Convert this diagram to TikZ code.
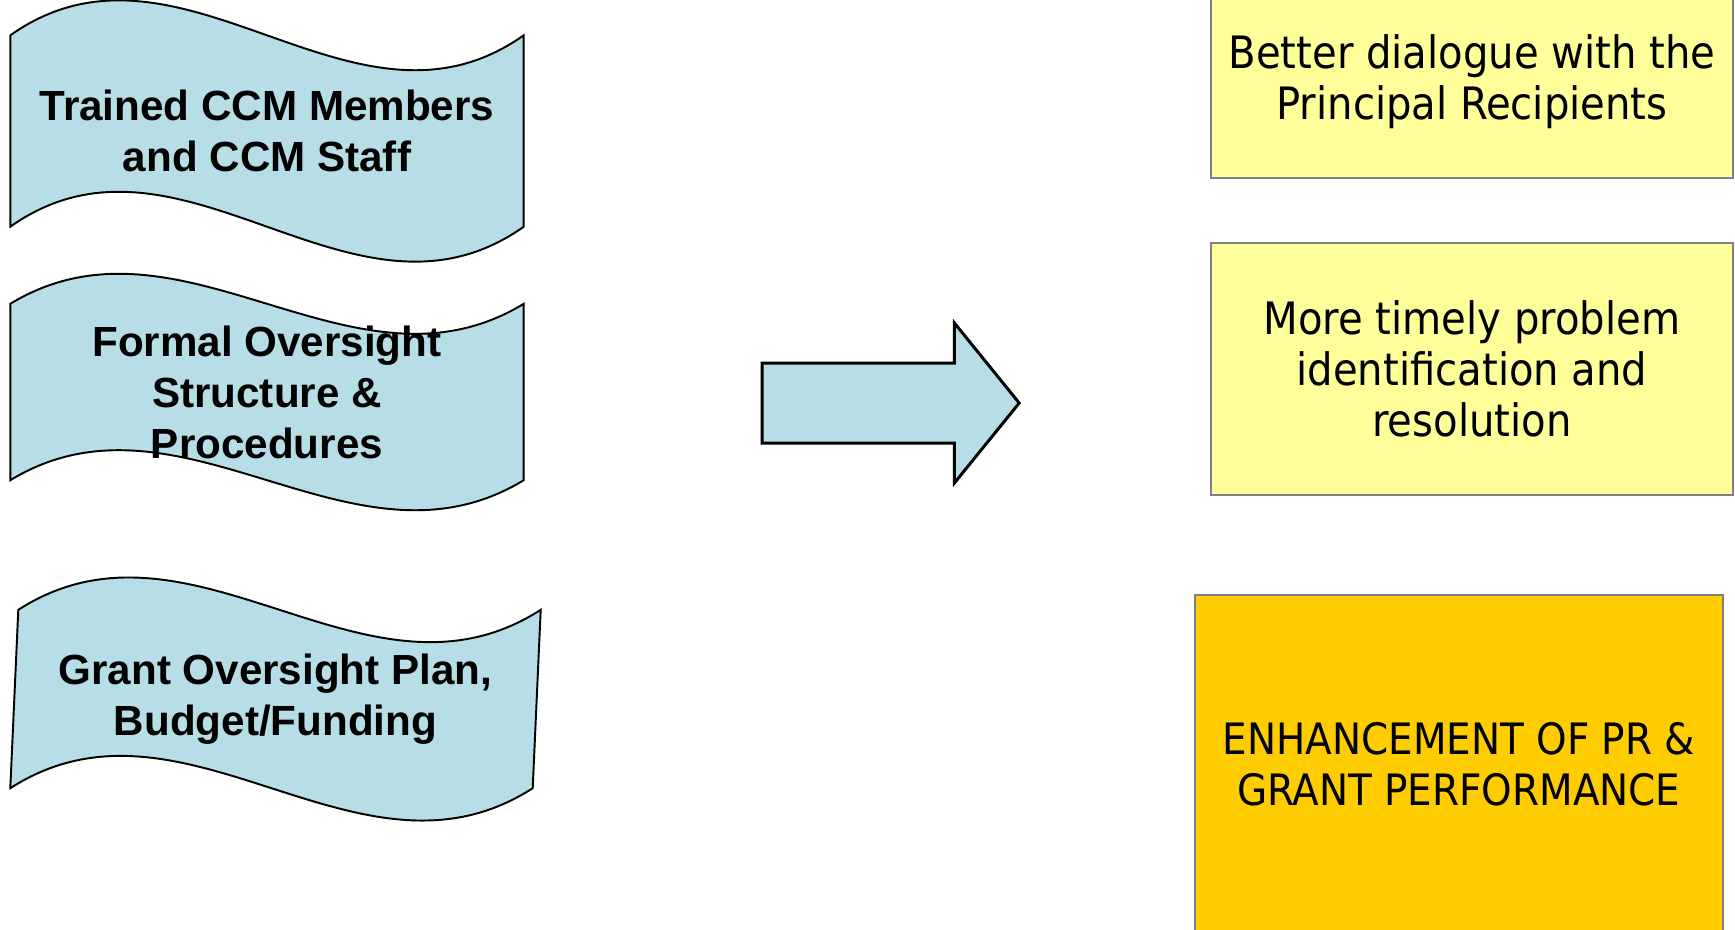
\documentclass[tikz,border=0pt]{standalone}
\usepackage{fontspec}
\setmainfont{Liberation Sans}
\newfontfamily\tahomafont{DejaVu Sans Condensed}
\usetikzlibrary{shapes.arrows,calc,backgrounds}
\definecolor{waveblue}{RGB}{183,222,230}
\definecolor{paleyellow}{RGB}{255,255,153}
\definecolor{goldbox}{RGB}{255,204,0}
\definecolor{boxline}{RGB}{128,128,128}

\begin{document}
\begin{tikzpicture}[every node/.style={align=center}, wave/.style={minimum width=5.12cm,inner sep=0pt,font=\fontsize{12}{14.5}\selectfont\bfseries}, waveline/.style={draw=black,line width=0.55pt,fill=waveblue}, box/.style={draw=boxline,line width=0.4pt,fill=paleyellow,minimum width=5.22cm,inner sep=0pt,font=\tahomafont\fontsize{12.7}{14.5}\selectfont}, arr/.style={single arrow,draw=black,line width=0.85pt,fill=waveblue,inner xsep=0pt,inner ysep=0.385cm,minimum height=2.57cm,minimum width=1.57cm,single arrow head extend=0.4cm,single arrow tip angle=102}]
\useasboundingbox (0,0) rectangle (17.35,-9.29);
\node[wave,minimum height=1.9cm] (a) at (2.67,-1.31) {Trained CCM Members\\and CCM Staff};
\node[wave,minimum height=1.75cm] (b) at (2.67,-3.92) {Formal Oversight\\Structure \&\\Procedures};
\node[wave,minimum width=5.21cm,minimum height=1.77cm] (c) at (2.755,-6.99) {Grant Oversight Plan,\\Budget/Funding};
\node[arr] (d) at (8.745,-4.03) {};
\node[box,minimum height=1.92cm] (e) at (14.72,-0.82) {Better dialogue with the\\Principal Recipients};
\node[box,minimum height=2.52cm] (f) at (14.72,-3.69) {More timely problem\\identification and\\resolution};
\node[box,fill=goldbox,minimum width=5.28cm,minimum height=3.38cm,font=\tahomafont\fontsize{12.3}{14.5}\selectfont] (g) at (14.59,-7.64) {ENHANCEMENT OF PR \&\\GRANT PERFORMANCE};
% wavy outlines behind the labels
\begin{scope}[on background layer]
\foreach \n/\d/\s in {a/1.21/0,b/1.04/0,c/1.12/0.04}
  \draw[waveline] ($(\n.north west)+(\s,0)$) .. controls ($(\n.north west)!1/3!(\n.north east)+(\s,\d)$) and ($(\n.north west)!2/3!(\n.north east)+(\s,-\d)$) .. ($(\n.north east)+(\s,0)$) -- ($(\n.south east)-(\s,0)$) .. controls ($(\n.south west)!2/3!(\n.south east)-(\s,\d)$) and ($(\n.south west)!1/3!(\n.south east)-(\s,-\d)$) .. ($(\n.south west)-(\s,0)$) -- cycle;
\end{scope}
\end{tikzpicture}
\end{document}
